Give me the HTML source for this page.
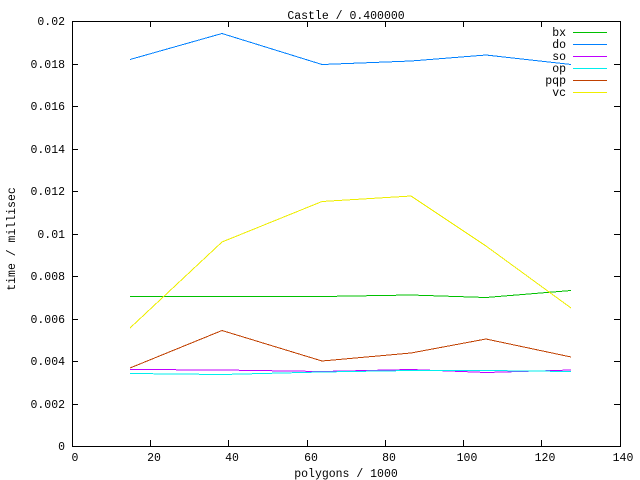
<!DOCTYPE html>
<html>
<head>
<meta charset="utf-8">
<style>
html,body{margin:0;padding:0;background:#fff;}
svg{display:block;}
text{font-family:"Liberation Mono","DejaVu Sans Mono",monospace;font-size:11.5px;fill:#000;}
</style>
</head>
<body>
<svg width="640" height="480" viewBox="0 0 640 480" xmlns="http://www.w3.org/2000/svg">
<rect width="640" height="480" fill="#fff"/>
<g stroke="#000" stroke-width="1" shape-rendering="crispEdges" fill="none">
<rect x="72.5" y="21.5" width="548" height="425"/>
<!-- y ticks -->
<path d="M72 446.5h6M620 446.5h-6
M72 404.5h6M620 404.5h-6
M72 361.5h6M620 361.5h-6
M72 319.5h6M620 319.5h-6
M72 276.5h6M620 276.5h-6
M72 234.5h6M620 234.5h-6
M72 191.5h6M620 191.5h-6
M72 149.5h6M620 149.5h-6
M72 106.5h6M620 106.5h-6
M72 64.5h6M620 64.5h-6
M72 21.5h6M620 21.5h-6"/>
<!-- x ticks -->
<path d="M72.5 446v-6M72.5 21v6
M150.5 446v-6M150.5 21v6
M228.5 446v-6M228.5 21v6
M307.5 446v-6M307.5 21v6
M385.5 446v-6M385.5 21v6
M463.5 446v-6M463.5 21v6
M541.5 446v-6M541.5 21v6
M620.5 446v-6M620.5 21v6"/>
</g>
<g text-anchor="end">
<text x="65" y="450">0</text>
<text x="65" y="408">0.002</text>
<text x="65" y="365">0.004</text>
<text x="65" y="323">0.006</text>
<text x="65" y="280">0.008</text>
<text x="65" y="238">0.01</text>
<text x="65" y="195">0.012</text>
<text x="65" y="153">0.014</text>
<text x="65" y="110">0.016</text>
<text x="65" y="68">0.018</text>
<text x="65" y="25">0.02</text>
</g>
<g text-anchor="middle">
<text x="75" y="461">0</text>
<text x="154" y="461">20</text>
<text x="232" y="461">40</text>
<text x="311" y="461">60</text>
<text x="389" y="461">80</text>
<text x="467" y="461">100</text>
<text x="545" y="461">120</text>
<text x="623" y="461">140</text>
<text x="346" y="19">Castle / 0.400000</text>
<text x="346" y="477">polygons / 1000</text>
<text transform="translate(15,239) rotate(-90)">time / millisec</text>
</g>
<g fill="none" stroke-width="1" shape-rendering="crispEdges">
<polyline stroke="#00c000" points="130,296.5 222,296.5 322,296.5 411,295 486,297.5 571,290.5"/>
<polyline stroke="#0080ff" points="130,59.5 222,33.5 322,64.5 411,61 486,55 571,64.5"/>
<polyline stroke="#c000ff" points="130,369.5 222,370 322,371.5 411,369.5 486,372.5 571,370"/>
<polyline stroke="#00eeee" points="130,373.5 222,374.5 322,372 411,370.5 486,370.5 571,371.5"/>
<polyline stroke="#c04000" points="130,368 222,330.5 322,361 411,353 486,339 571,357"/>
<polyline stroke="#eeee00" points="130,328 222,242 322,201.5 411,196 486,246 571,308"/>
</g>
<g text-anchor="end">
<text x="566" y="36">bx</text>
<text x="566" y="48">do</text>
<text x="566" y="60">so</text>
<text x="566" y="72">op</text>
<text x="566" y="84">pqp</text>
<text x="566" y="96">vc</text>
</g>
<g stroke-width="1" shape-rendering="crispEdges">
<path stroke="#00c000" d="M573 32.5h34"/>
<path stroke="#0080ff" d="M573 44.5h34"/>
<path stroke="#c000ff" d="M573 56.5h34"/>
<path stroke="#00eeee" d="M573 68.5h34"/>
<path stroke="#c04000" d="M573 80.5h34"/>
<path stroke="#eeee00" d="M573 92.5h34"/>
</g>
</svg>
</body>
</html>
